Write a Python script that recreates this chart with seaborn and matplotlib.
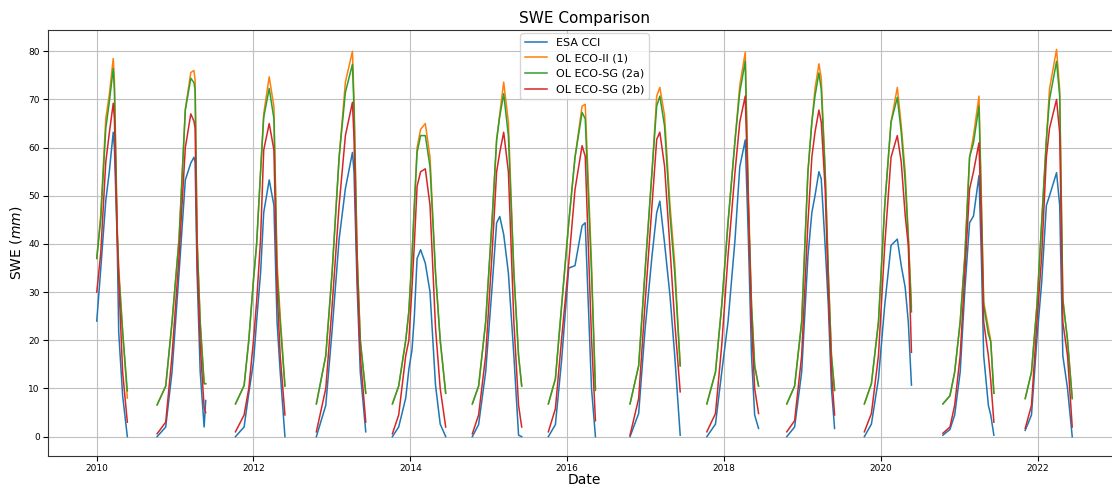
import numpy as np
import pandas as pd
import matplotlib
matplotlib.use("Agg")
import matplotlib.pyplot as plt
import seaborn as sns

# ---- data (decimal-year knots, one winter season after another) ----
knot_year = [
    2010.00, 2010.05, 2010.115, 2010.16, 2010.21, 2010.225, 2010.26, 2010.28, 2010.33, 2010.39,
    2010.77, 2010.88, 2010.96, 2011.05, 2011.13, 2011.20, 2011.24, 2011.255, 2011.28, 2011.32, 2011.37, 2011.39,
    2011.77, 2011.88, 2011.94, 2012.00, 2012.04, 2012.09, 2012.13, 2012.20, 2012.26, 2012.30, 2012.34, 2012.40,
    2012.80, 2012.92, 2013.00, 2013.09, 2013.17, 2013.26, 2013.28, 2013.32, 2013.36, 2013.43,
    2013.77, 2013.85, 2013.94, 2013.98, 2014.02, 2014.05, 2014.085, 2014.13, 2014.19, 2014.25, 2014.32, 2014.38, 2014.45,
    2014.79, 2014.87, 2014.96, 2015.04, 2015.10, 2015.14, 2015.19, 2015.25, 2015.32, 2015.38, 2015.42,
    2015.76, 2015.85, 2015.93, 2016.02, 2016.10, 2016.19, 2016.23, 2016.31, 2016.36,
    2016.80, 2016.91, 2016.99, 2017.08, 2017.14, 2017.18, 2017.24, 2017.31, 2017.37, 2017.44,
    2017.78, 2017.89, 2017.97, 2018.05, 2018.14, 2018.20, 2018.27, 2018.31, 2018.35, 2018.39, 2018.44,
    2018.80, 2018.90, 2018.99, 2019.07, 2019.12, 2019.16, 2019.21, 2019.24, 2019.29, 2019.33, 2019.37, 2019.41,
    2019.79, 2019.88, 2019.97, 2020.05, 2020.13, 2020.21, 2020.26, 2020.31, 2020.35, 2020.39,
    2020.79, 2020.88, 2020.94, 2021.01, 2021.07, 2021.13, 2021.18, 2021.25, 2021.28, 2021.31, 2021.37, 2021.40, 2021.44,
    2021.84, 2021.92, 2021.99, 2022.05, 2022.11, 2022.15, 2022.24, 2022.28, 2022.32, 2022.38, 2022.44,
]

esa_cci = [
    24, 34.7, 49, 55, 63.2, 60, 41, 21.7, 8.5, 0,
    0, 2, 13.4, 34, 53.3, 56.8, 58, 57, 34, 13.4, 2, 7.5,
    0, 2, 9, 15.5, 24, 34, 46.5, 53.3, 48, 23.8, 13.4, 0,
    0, 6.5, 22, 41, 51.5, 59, 55, 31, 13.4, 1,
    0, 2, 8, 14, 18, 25, 37, 38.8, 36, 30, 10.7, 2.6, 0,
    0, 2.5, 13.4, 30.6, 44.4, 45.7, 42, 34, 16.8, 0.3, 0,
    0, 2.5, 16, 35, 35.5, 43.8, 44.4, 10, 0,
    0, 4.8, 22, 37.5, 46.5, 48.9, 40.2, 29.2, 16.8, 0.3,
    0, 2.6, 13.4, 23.8, 41, 56, 61.6, 41, 16.8, 4.5, 1.7,
    0, 2, 13.4, 37.5, 46.5, 50, 55, 53.5, 39.5, 27.3, 10, 1.7,
    0, 2.6, 12, 27.3, 39.7, 41, 35.5, 31, 23.8, 10.7,
    0.3, 1.5, 4.5, 13.4, 30.6, 44.4, 45.8, 54.2, 37.5, 16.8, 6.5, 4.5, 0.3,
    1.3, 4.5, 20.4, 32, 48, 50, 54.8, 48, 16.8, 10, 0,
]

ol_eco_ii = [
    37, 46, 66, 71, 78.5, 74, 44, 35, 22, 8,
    6.6, 10.5, 23.7, 41, 68, 75.6, 76, 74, 41, 23.7, 11, 11,
    6.8, 10.6, 20, 32.6, 40, 55, 67, 74.7, 68.5, 36, 25, 10.5,
    6.8, 16.8, 34, 58, 73.6, 80, 70, 38, 20, 9,
    6.8, 10.5, 20, 26, 37.5, 48, 60, 63.8, 65, 58, 34, 20, 9,
    6.8, 10.5, 23.8, 44.4, 61.6, 67, 73.6, 65.3, 34, 16.8, 10.5,
    6.8, 12, 27.3, 44.4, 58, 68.6, 69, 36, 10,
    6.8, 14.7, 34, 55, 70.7, 72.5, 66.7, 48, 36, 14.7,
    6.8, 13.4, 27.3, 44.4, 61.6, 72.9, 79.8, 50, 27.3, 14.7, 10.5,
    6.8, 10.5, 23.8, 55, 65.3, 72.2, 77.4, 74.4, 55, 34, 16.8, 9.6,
    6.8, 11, 23.8, 48, 65.3, 72.5, 64.6, 55, 42, 27,
    6.8, 8.5, 13.4, 23.8, 37.5, 58, 62.5, 70.7, 50, 28, 22.6, 20, 9,
    7.9, 13.4, 27.3, 44.4, 61.6, 72.2, 80.4, 72, 28.5, 20, 7.9,
]

ol_eco_sg_2a = [
    37, 45, 64, 69.5, 76.4, 72, 43, 34, 21.7, 9.5,
    6.6, 10.5, 23.7, 41, 67.8, 74.4, 73.5, 72, 41, 23.7, 11, 11,
    6.8, 10.6, 20, 32.6, 40, 55, 66.3, 72.3, 66, 34, 23.7, 10.5,
    6.8, 16.8, 34, 58, 71.5, 77.3, 68, 37.5, 20, 9,
    6.8, 10.5, 20, 26, 37.5, 48, 59, 62.5, 62.5, 56, 34, 20, 9,
    6.8, 10.5, 23.8, 44.4, 61.6, 66.5, 71.2, 62.5, 34, 16.8, 10.5,
    6.8, 12, 27.3, 44.4, 58, 67.3, 66, 34, 9.6,
    6.8, 14.7, 34, 55, 68.6, 70.7, 64.5, 46, 34, 14.7,
    6.8, 13.4, 27.3, 44.4, 61.6, 71.5, 77.9, 48, 27.3, 14.7, 10.5,
    6.8, 10.5, 23.8, 55, 65.3, 70.7, 75.5, 72, 55, 34, 16.8, 9.6,
    6.8, 11, 23.8, 48, 65.3, 70.4, 63.2, 53, 41, 25.9,
    6.8, 8.5, 13.4, 23.8, 37.5, 58, 61, 68.6, 48, 27.3, 21.3, 19.7, 9,
    7.9, 13.4, 27.3, 44.4, 61.6, 70, 77.9, 70.7, 28.5, 20, 7.9,
]

ol_eco_sg_2b = [
    30, 38, 57, 63, 69.2, 66, 42, 32.6, 13.4, 3,
    0.6, 3, 16.8, 37.4, 60, 67, 65.5, 64, 37, 19, 6, 5,
    1, 4.5, 10, 20, 28, 41, 59.5, 65, 59.5, 30.6, 16.8, 4.5,
    1, 10, 27, 48, 62.5, 69.4, 62, 34, 16.8, 3,
    0.6, 4.5, 16.8, 20, 31, 40, 52, 55, 55.6, 48, 22.6, 10, 2,
    0.6, 4.5, 16.8, 37.5, 55, 59, 63.2, 55, 23.8, 6.5, 2,
    1, 5.8, 20.4, 36, 51.3, 60.4, 58.2, 20.4, 3.3,
    0.3, 7.9, 27.3, 48, 61.7, 63.2, 56.2, 39, 23.8, 9.3,
    1, 4.8, 19, 37.5, 55, 65.3, 70.7, 48, 23.8, 10, 4.8,
    1, 3.3, 16.8, 44.4, 58, 63.2, 67.8, 65.3, 51.4, 30.6, 13.4, 4.5,
    1, 4.8, 16.8, 39.7, 58, 62.5, 57, 46, 39.7, 17.5,
    0.7, 2, 6.5, 16.8, 34, 51.4, 55, 61, 44.4, 23.8, 16.8, 11.7, 3,
    1.7, 6.5, 23.8, 37.5, 58, 64, 70, 63, 23.8, 16.8, 2,
]

dataset_names = ["ESA CCI", "OL ECO-II (1)", "OL ECO-SG (2a)", "OL ECO-SG (2b)"]


def decimal_year_to_date(y):
    year = int(np.floor(y))
    start = pd.Timestamp(year=year, month=1, day=1)
    end = pd.Timestamp(year=year + 1, month=1, day=1)
    return start + (end - start) * (y - year)


dates = [decimal_year_to_date(y) for y in knot_year]
season = np.concatenate([[0], np.cumsum(np.diff(knot_year) > 0.2)])

frames = []
for name, vals in zip(dataset_names, [esa_cci, ol_eco_ii, ol_eco_sg_2a, ol_eco_sg_2b]):
    frames.append(pd.DataFrame({"Date": dates, "SWE": vals, "Dataset": name, "season": season}))
long_df = pd.concat(frames, ignore_index=True)

# ---- plot ----
plt.rcParams["font.family"] = ["DejaVu Sans"]
fig = plt.figure(figsize=(11.12, 4.88), dpi=100)
ax = fig.add_axes([48 / 1112, 1 - 456 / 488, 1073 / 1112, 426 / 488])

palette = ["#1f77b4", "#ff7f0e", "#2ca02c", "#d62728"]
sns.lineplot(data=long_df, x="Date", y="SWE", hue="Dataset", hue_order=dataset_names,
             units="season", estimator=None, palette=palette, linewidth=1.1, ax=ax)

ax.grid(True, color="#c0c0c0", linewidth=0.8)
ax.set_axisbelow(True)
ax.set_title("SWE Comparison", fontsize=11, pad=5)
ax.set_xlabel("Date", fontsize=10, labelpad=0)
ax.set_ylabel("SWE ($mm$)", fontsize=10, labelpad=3)
ax.tick_params(labelsize=6.5, pad=2.5)
for s in ax.spines.values():
    s.set_color("#333333")
sns.move_legend(ax, "upper center", title=None, fontsize=8, frameon=True,
                borderaxespad=0.3)

fig.savefig("out.png", dpi=100)
